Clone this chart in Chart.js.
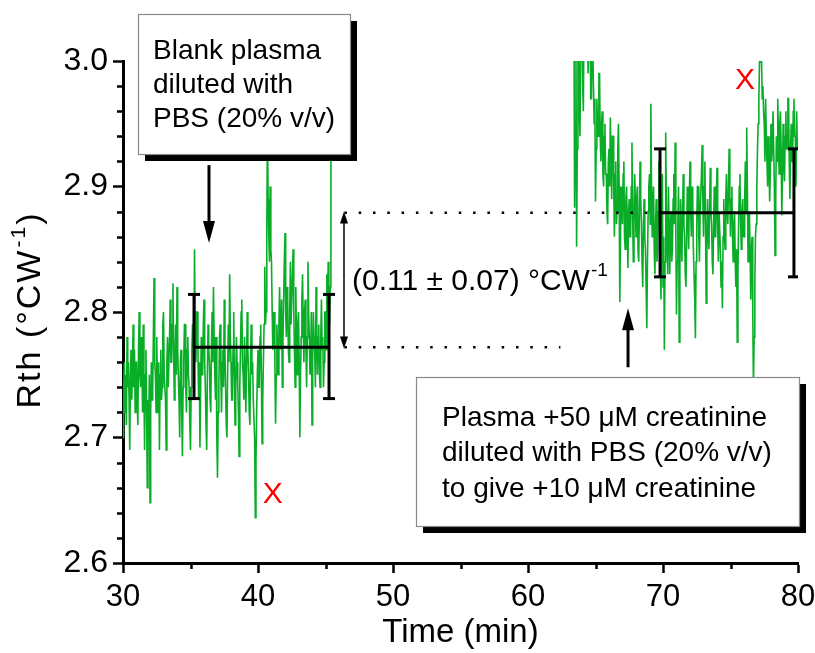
<!DOCTYPE html>
<html>
<head>
<meta charset="utf-8">
<script src="https://cdn.jsdelivr.net/npm/chart.js@4.4.1/dist/chart.umd.min.js"></script>
<style>
  body { margin: 0; background: #fff; }
</style>
</head>
<body>
<canvas id="rthChart" width="815" height="653"></canvas>
<script>
// Sampling of the two recorded segments (minutes)
var sampleStep = 0.05;
var seg1Start = 30.0;
var seg2Start = 63.4;

// Rth trace, blank plasma (30.00 - 45.45 min), one row = 0.5 min
var seg1Values = [
    2.70, 2.74, 2.76, 2.72, 2.75, 2.71, 2.78, 2.74, 2.76, 2.73,
    2.69, 2.75, 2.77, 2.73, 2.75, 2.79, 2.74, 2.77, 2.72, 2.76,
    2.76, 2.73, 2.71, 2.77, 2.80, 2.75, 2.74, 2.78, 2.76, 2.72,
    2.79, 2.74, 2.69, 2.75, 2.77, 2.72, 2.66, 2.73, 2.70, 2.75,
    2.648, 2.72, 2.76, 2.73, 2.74, 2.78, 2.827, 2.76, 2.75, 2.72,
    2.78, 2.74, 2.72, 2.76, 2.69, 2.75, 2.77, 2.73, 2.74, 2.79,
    2.80, 2.75, 2.75, 2.73, 2.69, 2.76, 2.78, 2.74, 2.74, 2.78,
    2.81, 2.76, 2.76, 2.79, 2.823, 2.77, 2.73, 2.76, 2.79, 2.75,
    2.82, 2.77, 2.75, 2.73, 2.70, 2.76, 2.77, 2.72, 2.685, 2.74,
    2.76, 2.79, 2.79, 2.74, 2.72, 2.77, 2.78, 2.75, 2.74, 2.71,
    2.69, 2.74, 2.77, 2.79, 2.79, 2.76, 2.85, 2.78, 2.76, 2.80,
    2.80, 2.77, 2.73, 2.76, 2.692, 2.74, 2.78, 2.75, 2.75, 2.79,
    2.81, 2.76, 2.74, 2.71, 2.69, 2.75, 2.79, 2.77, 2.76, 2.73,
    2.72, 2.77, 2.80, 2.76, 2.82, 2.78, 2.75, 2.73, 2.78, 2.70,
    2.668, 2.72, 2.74, 2.78, 2.79, 2.75, 2.72, 2.76, 2.77, 2.74,
    2.81, 2.77, 2.74, 2.71, 2.70, 2.75, 2.79, 2.76, 2.83, 2.78,
    2.76, 2.73, 2.73, 2.77, 2.80, 2.75, 2.71, 2.74, 2.78, 2.76,
    2.74, 2.72, 2.685, 2.74, 2.77, 2.80, 2.81, 2.76, 2.75, 2.73,
    2.78, 2.75, 2.72, 2.76, 2.80, 2.77, 2.75, 2.72, 2.71, 2.76,
    2.79, 2.75, 2.76, 2.73, 2.73, 2.70, 2.636, 2.68, 2.72, 2.75,
    2.77, 2.74, 2.74, 2.78, 2.79, 2.75, 2.695, 2.73, 2.76, 2.79,
    2.836, 2.79, 2.80, 2.86, 2.95, 2.89, 2.86, 2.84, 2.90, 2.85,
    2.84, 2.80, 2.77, 2.79, 2.80, 2.76, 2.711, 2.75, 2.79, 2.77,
    2.75, 2.79, 2.82, 2.78, 2.77, 2.81, 2.74, 2.78, 2.81, 2.84,
    2.863, 2.80, 2.78, 2.82, 2.81, 2.77, 2.76, 2.80, 2.84, 2.79,
    2.79, 2.83, 2.85, 2.80, 2.77, 2.74, 2.82, 2.78, 2.75, 2.79,
    2.80, 2.76, 2.70, 2.75, 2.78, 2.81, 2.83, 2.79, 2.76, 2.80,
    2.81, 2.77, 2.74, 2.78, 2.84, 2.80, 2.78, 2.75, 2.76, 2.80,
    2.71, 2.76, 2.80, 2.78, 2.77, 2.74, 2.82, 2.79, 2.75, 2.78,
    2.79, 2.75, 2.74, 2.78, 2.81, 2.77, 2.78, 2.74, 2.76, 2.80,
    2.80, 2.77, 2.83, 2.80, 2.84, 2.81, 2.79, 2.82, 2.95, 2.93
];

// Rth trace, plasma +10 uM creatinine (63.40 - 80.00 min)
var seg2Values = [
    3.05, 2.883,
    2.95, 3.02, 2.852, 2.93, 3.04, 3.02, 2.96, 2.94, 3.01, 3.05,
    3.03, 2.98, 2.96, 3.04, 3.05, 3.01, 3.02, 3.06, 3.04, 2.99,
    2.99, 3.03, 3.03, 2.97, 2.97, 3.02, 3.01, 2.98, 2.95, 2.97,
    2.888, 2.93, 2.97, 2.95, 2.94, 2.99, 2.99, 2.94, 2.92, 2.95,
    2.96, 2.91, 2.90, 2.94, 2.95, 2.91, 2.91, 2.88, 2.87, 2.92,
    2.93, 2.90, 2.955, 2.92, 2.89, 2.94, 2.94, 2.90, 2.86, 2.91,
    2.92, 2.87, 2.88, 2.93, 2.95, 2.90, 2.808, 2.86, 2.90, 2.88,
    2.87, 2.91, 2.92, 2.86, 2.85, 2.89, 2.90, 2.87, 2.835, 2.88,
    2.89, 2.86, 2.86, 2.90, 2.935, 2.88, 2.84, 2.87, 2.91, 2.89,
    2.86, 2.89, 2.90, 2.85, 2.84, 2.88, 2.92, 2.89, 2.87, 2.84,
    2.82, 2.87, 2.89, 2.86, 2.85, 2.82, 2.787, 2.84, 2.88, 2.90,
    2.91, 2.87, 2.966, 2.90, 2.86, 2.89, 2.90, 2.85, 2.83, 2.87,
    2.89, 2.84, 2.85, 2.88, 2.92, 2.87, 2.84, 2.81, 2.88, 2.91,
    2.82, 2.86, 2.77, 2.84, 2.943, 2.88, 2.86, 2.83, 2.90, 2.87,
    2.83, 2.87, 2.88, 2.84, 2.85, 2.89, 2.91, 2.87, 2.935, 2.86,
    2.798, 2.84, 2.87, 2.90, 2.776, 2.83, 2.89, 2.86, 2.84, 2.88,
    2.91, 2.87, 2.86, 2.83, 2.82, 2.86, 2.90, 2.88, 2.85, 2.89,
    2.92, 2.88, 2.86, 2.90, 2.89, 2.85, 2.83, 2.81, 2.779, 2.84,
    2.87, 2.90, 2.90, 2.86, 2.84, 2.88, 2.88, 2.91, 2.933, 2.89,
    2.86, 2.90, 2.92, 2.87, 2.807, 2.85, 2.89, 2.86, 2.85, 2.88,
    2.915, 2.88, 2.87, 2.84, 2.83, 2.87, 2.90, 2.86, 2.86, 2.89,
    2.915, 2.87, 2.84, 2.88, 2.88, 2.85, 2.82, 2.84, 2.803, 2.86,
    2.89, 2.86, 2.85, 2.89, 2.91, 2.88, 2.87, 2.90, 2.93, 2.89,
    2.86, 2.89, 2.90, 2.86, 2.84, 2.87, 2.88, 2.84, 2.82, 2.85,
    2.776, 2.83, 2.87, 2.90, 2.91, 2.87, 2.85, 2.88, 2.89, 2.86,
    2.86, 2.89, 2.92, 2.88, 2.947, 2.90, 2.84, 2.87, 2.88, 2.85,
    2.81, 2.85, 2.86, 2.80, 2.74, 2.78, 2.82, 2.86, 2.87, 2.90,
    2.93, 2.95, 2.97, 3.00, 2.999, 3.02, 3.00, 2.97, 2.98, 2.96,
    2.95, 2.92, 2.97, 2.94, 2.92, 2.90, 2.94, 2.92, 2.888, 2.91,
    2.95, 2.92, 2.93, 2.96, 2.96, 2.90, 2.845, 2.89, 2.94, 2.92,
    2.97, 2.94, 2.91, 2.95, 2.96, 2.93, 2.877, 2.91, 2.95, 2.92,
    2.904, 2.94, 2.96, 2.93, 2.93, 2.97, 2.97, 2.92, 2.89, 2.93,
    2.95, 2.92, 2.92, 2.96, 2.97, 2.94, 2.94, 2.90, 2.96, 2.93,
    2.93
];

// Mean +/- error bars of each plateau
var barStartX = [35.26, 69.78];
var barEndX   = [45.26, 79.70];
var barMean   = [2.772, 2.879];
var barLow    = [2.731, 2.828];
var barHigh   = [2.814, 2.930];

// Dotted guide lines (from, to, level)
var guideFromX = [46.4, 46.4];
var guideToX   = [69.78, 62.4];
var guideLevel = [2.879, 2.772];

// Axis ticks
var xTicks = [30, 40, 50, 60, 70, 80];
var yTicks = [2.6, 2.7, 2.8, 2.9, 3.0];

var FONT = '"Liberation Sans", Arial, Helvetica, sans-serif';
var GREEN = '#0aad28';

function toPoints(start, values) {
    return values.map(function(v, i) {
        return { x: +(start + i * sampleStep).toFixed(2), y: v };
    });
}

// Build datasets (green traces drawn underneath the black marks)
var datasets = [
    { data: toPoints(seg1Start, seg1Values), borderColor: GREEN, borderWidth: 1.6, pointRadius: 0, clip: 0, order: 2 },
    { data: toPoints(seg2Start, seg2Values), borderColor: GREEN, borderWidth: 1.6, pointRadius: 0, clip: 0, order: 2 }
];

guideLevel.forEach(function(level, i) {
    datasets.push({
        data: [{ x: guideFromX[i], y: level }, { x: guideToX[i], y: level }],
        borderColor: '#000', borderWidth: 2.5, borderDash: [2.5, 11.8], pointRadius: 0, order: 1
    });
});

barMean.forEach(function(m, i) {
    // horizontal mean line
    datasets.push({
        data: [{ x: barStartX[i], y: m }, { x: barEndX[i], y: m }],
        borderColor: '#000', borderWidth: 3, pointRadius: 0, order: 0
    });
    // vertical bars with caps
    [barStartX[i], barEndX[i]].forEach(function(bx) {
        datasets.push({
            data: [{ x: bx, y: barLow[i] }, { x: bx, y: barHigh[i] }],
            borderColor: '#000', borderWidth: 3, order: 0,
            pointStyle: 'line', pointRadius: 6, pointBorderWidth: 3, pointBorderColor: '#000'
        });
    });
});

// Minor ticks (outside the axes)
var minorTicks = {
    id: 'minorTicks',
    afterDraw: function(chart) {
        var ctx = chart.ctx, xs = chart.scales.x, ys = chart.scales.y;
        var area = chart.chartArea;
        ctx.save();
        ctx.strokeStyle = '#000';
        ctx.lineWidth = 2.5;
        ctx.beginPath();
        for (var v = 2.62; v < 3.0; v += 0.02) {
            if (Math.abs(v * 10 - Math.round(v * 10)) < 0.01) continue;
            var py = Math.round(ys.getPixelForValue(v)) + 0.5;
            ctx.moveTo(area.left, py);
            ctx.lineTo(area.left - 6, py);
        }
        for (var t = 35; t < 80; t += 10) {
            var px = Math.round(xs.getPixelForValue(t)) + 0.5;
            ctx.moveTo(px, area.bottom);
            ctx.lineTo(px, area.bottom + 6);
        }
        ctx.stroke();
        ctx.restore();
    }
};

function drawSuperText(ctx, main, sup, x, y, size) {
    ctx.font = size + 'px ' + FONT;
    ctx.textBaseline = 'middle';
    ctx.textAlign = 'left';
    ctx.fillText(main, x, y);
    var w = ctx.measureText(main).width;
    ctx.font = Math.round(size * 0.62) + 'px ' + FONT;
    ctx.fillText(sup, x + w + 1, y - size * 0.36);
    return w + 1 + ctx.measureText(sup).width;
}

function drawArrow(ctx, x, y0, y1, width, headLen, headHalf) {
    var dir = y1 > y0 ? 1 : -1;
    ctx.lineWidth = width;
    ctx.beginPath();
    ctx.moveTo(x, y0);
    ctx.lineTo(x, y1 - dir * headLen * 0.8);
    ctx.stroke();
    ctx.beginPath();
    ctx.moveTo(x, y1);
    ctx.lineTo(x - headHalf, y1 - dir * headLen);
    ctx.lineTo(x + headHalf, y1 - dir * headLen);
    ctx.closePath();
    ctx.fill();
}

function drawBox(ctx, x, y, w, h, lines, textX, firstY, gap) {
    ctx.fillStyle = '#000';
    ctx.fillRect(x + 7, y + 7, w, h);
    ctx.fillStyle = '#fff';
    ctx.fillRect(x, y, w, h);
    ctx.strokeStyle = '#8a8a8a';
    ctx.lineWidth = 1.2;
    ctx.strokeRect(x + 0.5, y + 0.5, w, h);
    ctx.fillStyle = '#000';
    ctx.font = '28px ' + FONT;
    ctx.textAlign = 'left';
    ctx.textBaseline = 'middle';
    lines.forEach(function(line, i) {
        ctx.fillText(line, textX, firstY + i * gap);
    });
}

// Boxes, arrows, labels
var annotations = {
    id: 'annotations',
    afterDraw: function(chart) {
        var ctx = chart.ctx, xs = chart.scales.x, ys = chart.scales.y;
        ctx.save();
        ctx.fillStyle = '#000';
        ctx.strokeStyle = '#000';

        // difference arrow + label
        var ax = xs.getPixelForValue(46.37);
        drawArrow(ctx, ax, ys.getPixelForValue(2.826), ys.getPixelForValue(2.880), 1.5, 12, 4);
        drawArrow(ctx, ax, ys.getPixelForValue(2.826), ys.getPixelForValue(2.771), 1.5, 12, 4);
        ctx.fillStyle = '#000';
        drawSuperText(ctx, '(0.11 \u00b1 0.07) \u00b0CW', '-1', xs.getPixelForValue(46.96), ys.getPixelForValue(2.824), 30);

        // arrows from the boxes
        drawArrow(ctx, xs.getPixelForValue(36.37), ys.getPixelForValue(2.917), ys.getPixelForValue(2.855), 3, 22, 6);
        drawArrow(ctx, xs.getPixelForValue(67.41), ys.getPixelForValue(2.756), ys.getPixelForValue(2.803), 3, 22, 6);

        // text boxes
        drawBox(ctx, 138, 14, 212, 140, ['Blank plasma', 'diluted with', 'PBS (20% v/v)'], 153, 51, 34);
        drawBox(ctx, 416, 377, 383, 149, ['Plasma +50 \u03bcM creatinine', 'diluted with PBS (20% v/v)', 'to give +10 \u03bcM creatinine'], 442, 418, 35.5);

        // red X marks
        ctx.fillStyle = '#ff0000';
        ctx.font = '30px ' + FONT;
        ctx.textAlign = 'center';
        ctx.textBaseline = 'middle';
        ctx.fillText('X', xs.getPixelForValue(41.1), ys.getPixelForValue(2.654));
        ctx.fillText('X', xs.getPixelForValue(76.07), ys.getPixelForValue(2.984));

        // y axis title with superscript
        ctx.fillStyle = '#000';
        ctx.translate(31, 310);
        ctx.rotate(-Math.PI / 2);
        ctx.letterSpacing = '2px';
        ctx.font = '34px ' + FONT;
        var wMain = ctx.measureText('Rth (\u00b0CW').width;
        ctx.font = '21px ' + FONT;
        var wSup = ctx.measureText('-1').width;
        ctx.font = '34px ' + FONT;
        var wEnd = ctx.measureText(')').width;
        var start = -(wMain + 1 + wSup + wEnd) / 2;
        var used = drawSuperText(ctx, 'Rth (\u00b0CW', '-1', start, 0, 34);
        ctx.font = '34px ' + FONT;
        ctx.fillText(')', start + used, 0);
        ctx.restore();
    }
};

// Define options
var options = {
    responsive: false,
    animation: false,
    devicePixelRatio: 1,
    layout: {
        padding: { top: 61, right: 17, left: 0, bottom: 0 }
    },
    plugins: {
        legend: { display: false },
        tooltip: { enabled: false }
    },
    scales: {
        x: {
            type: 'linear',
            min: 30,
            max: 80,
            afterFit: function(scale) {
                scale.height = 90;
                scale.paddingLeft = 0;
                scale.paddingRight = 0;
            },
            afterBuildTicks: function(scale) {
                scale.ticks = xTicks.map(function(v) { return { value: v }; });
            },
            ticks: {
                color: '#000',
                font: { family: FONT, size: 31 },
                padding: 6,
                maxRotation: 0
            },
            grid: {
                drawOnChartArea: false,
                drawTicks: true,
                tickLength: 10,
                tickWidth: 2.5,
                tickColor: '#000'
            },
            border: { color: '#000', width: 3 },
            title: {
                display: true,
                text: 'Time (min)',
                color: '#000',
                font: { family: FONT, size: 33 },
                padding: { top: 0, bottom: 0 }
            }
        },
        y: {
            type: 'linear',
            min: 2.6,
            max: 3.0,
            afterFit: function(scale) { scale.width = 123; },
            afterBuildTicks: function(scale) {
                scale.ticks = yTicks.map(function(v) { return { value: v }; });
            },
            ticks: {
                color: '#000',
                font: { family: FONT, size: 32 },
                padding: 5,
                callback: function(value) { return value.toFixed(1); }
            },
            grid: {
                drawOnChartArea: false,
                drawTicks: true,
                tickLength: 10,
                tickWidth: 2.5,
                tickColor: '#000'
            },
            border: { color: '#000', width: 3 }
        }
    }
};

// Create the chart
var ctx = document.getElementById('rthChart').getContext('2d');
var rthChart = new Chart(ctx, {
    type: 'line',
    data: { datasets: datasets },
    options: options,
    plugins: [minorTicks, annotations]
});
</script>
</body>
</html>
